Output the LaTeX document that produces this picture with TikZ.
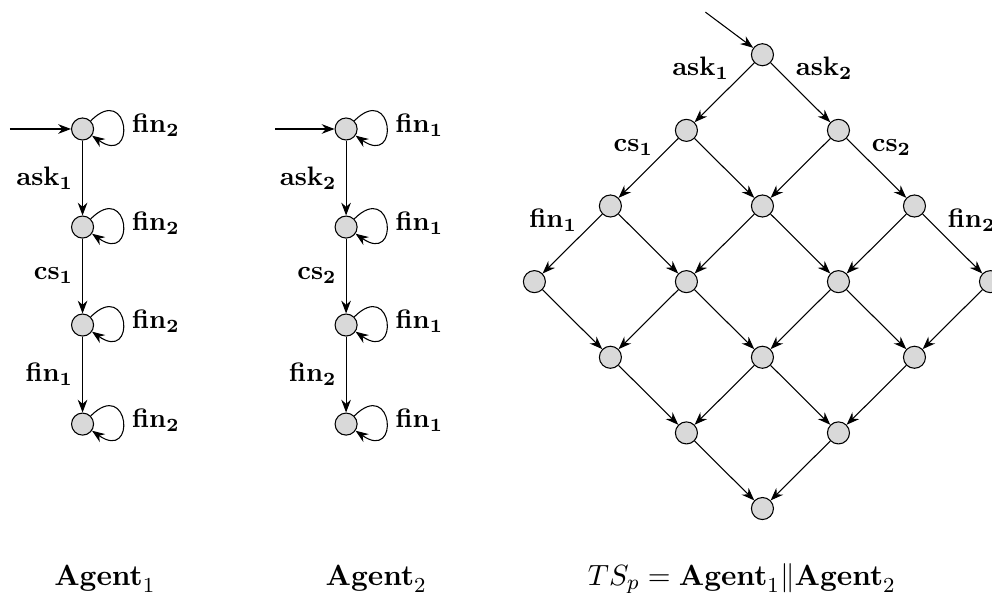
\documentclass[tikz,border=0pt]{standalone}
\usepackage{amsmath}
\usepackage{amssymb}
\usetikzlibrary{arrows.meta}

\begin{document}
\begin{tikzpicture}[
  state/.style={circle,draw,fill=gray!30,minimum size=0.29cm,inner sep=0pt},
  every edge/.style={draw,-{Stealth}},
  selfloop/.style={loop,out=45,in=-35,min distance=7.2mm},
  lbl left/.style={pos=0.4,above left,xshift=3pt,yshift=-1pt},
  lbl right/.style={pos=0.4,above right,xshift=-3pt,yshift=-1pt},
  caption/.style={anchor=base,font=\fontsize{10.8}{13}\selectfont},
]
\useasboundingbox (0,0) rectangle (13.05,-7.8);

% agents
\foreach \k/\y in {1/1.697,2/2.987,3/4.276,4/5.579}{
  \node[state] (a\k) at (1.086,-\y) {};
  \node[state] (b\k) at (4.553,-\y) {};
  \path (a\k) edge[selfloop] node[right] {$\mathbf{fin_2}$} (a\k);
  \path (b\k) edge[selfloop] node[right] {$\mathbf{fin_1}$} (b\k);
}
\coordinate (a0) at (0.13,-1.697);
\coordinate (b0) at (3.62,-1.697);
\draw (a0) edge (a1);
\draw (b0) edge (b1);

\draw (a1) edge node[left] {$\mathbf{ask_1}$} (a2)
      (a2) edge node[left] {$\mathbf{cs_1}$} (a3)
      (a3) edge node[left] {$\mathbf{fin_1}$} (a4);
\draw (b1) edge node[left] {$\mathbf{ask_2}$} (b2)
      (b2) edge node[left] {$\mathbf{cs_2}$} (b3)
      (b3) edge node[left] {$\mathbf{fin_2}$} (b4);

% product
\foreach \i in {0,...,3}{
  \foreach \j in {0,...,3}{
    \node[state] (s\i\j) at ({10.03+(\j-\i)*1.0},{-0.72-(\i+\j)*0.995}) {};
  }
}
\foreach \i in {0,1,2}{
  \foreach \j in {0,...,3}{
    \pgfmathtruncatemacro{\ni}{\i+1}
    \draw (s\i\j) edge (s\ni\j);
    \draw (s\j\i) edge (s\j\ni);
  }
}
\coordinate (s0) at (9.28,-0.16);
\draw (s0) edge (s00);

\path (s00) -- node[lbl left] {$\mathbf{ask_1}$} (s10);
\path (s00) -- node[lbl right] {$\mathbf{ask_2}$} (s01);
\path (s10) -- node[lbl left] {$\mathbf{cs_1}$} (s20);
\path (s01) -- node[lbl right] {$\mathbf{cs_2}$} (s02);
\path (s20) -- node[lbl left] {$\mathbf{fin_1}$} (s30);
\path (s02) -- node[lbl right] {$\mathbf{fin_2}$} (s03);

% captions
\node[caption] (c1) at (1.38,-7.70) {$\mathbf{Agent}_1$};
\node[caption] (c2) at (4.95,-7.70) {$\mathbf{Agent}_2$};
\node[caption] (c3) at (9.76,-7.70) {$TS_p = \mathbf{Agent}_1\|\mathbf{Agent}_2$};
\end{tikzpicture}
\end{document}
